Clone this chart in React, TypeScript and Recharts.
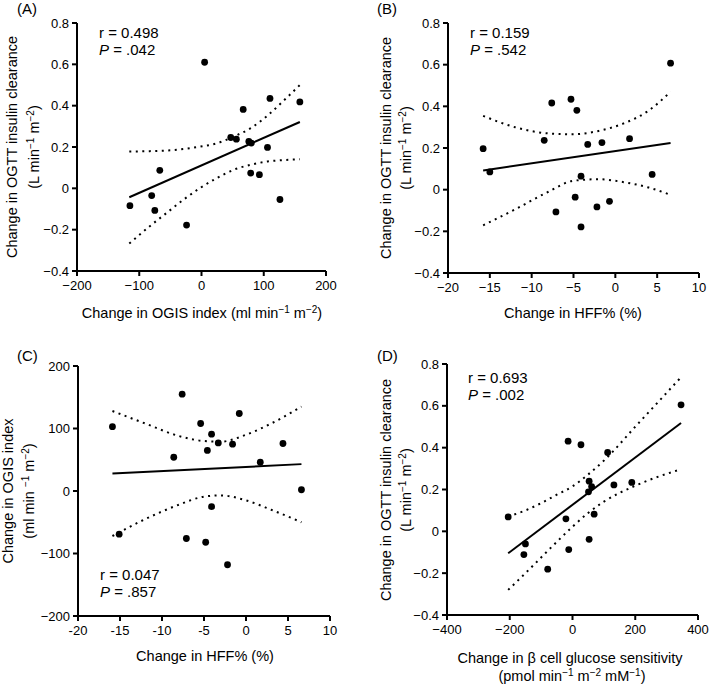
import React from "react";
import { ComposedChart, Scatter, Line, XAxis, YAxis } from "recharts";

// (A) OGIS index vs OGTT insulin clearance
const aX = [-115, -80, -75, -67, -24, 5, 47, 56, 67, 76, 80, 79, 93, 106, 110, 126, 158];
const aY = [-0.084, -0.035, -0.107, 0.087, -0.178, 0.61, 0.246, 0.238, 0.382, 0.227, 0.219, 0.074, 0.066, 0.198, 0.435, -0.054, 0.418];
const aFitX = [-116, 158];
const aFitY = [-0.043, 0.321];
const aBandX = [-116, -83, -56, -29, -2, 25, 52, 79, 106, 133, 158];
const aUpper = [0.178, 0.18, 0.183, 0.19, 0.202, 0.218, 0.251, 0.291, 0.352, 0.427, 0.5];
const aLower = [-0.267, -0.183, -0.119, -0.055, 0.002, 0.05, 0.09, 0.114, 0.13, 0.137, 0.141];

// (B) HFF% vs OGTT insulin clearance
const bX = [-15.8, -15.0, -8.5, -7.6, -7.1, -5.3, -4.8, -4.6, -4.1, -4.1, -3.3, -2.2, -1.6, -0.7, 1.7, 4.4, 6.6];
const bY = [0.197, 0.085, 0.237, 0.416, -0.107, 0.434, -0.036, 0.381, 0.065, -0.179, 0.217, -0.083, 0.226, -0.056, 0.245, 0.073, 0.607];
const bFitX = [-15.8, 6.6];
const bFitY = [0.092, 0.224];
const bBandX = [-15.8, -12, -8, -5, -2, 1, 4, 6.6];
const bUpper = [0.354, 0.3, 0.27, 0.266, 0.282, 0.318, 0.38, 0.47];
const bLower = [-0.171, -0.095, -0.01, 0.043, 0.05, 0.036, 0.01, -0.025];

// (C) HFF% vs OGIS index
const cX = [-15.9, -15.1, -8.6, -7.6, -7.1, -5.4, -4.8, -4.6, -4.1, -4.1, -3.3, -2.2, -1.6, -0.8, 1.7, 4.4, 6.6];
const cY = [103, -69, 54, 155, -76, 108, -82, 65, 91, -25, 77, -118, 75, 124, 46, 76, 2];
const cFitX = [-15.9, 6.6];
const cFitY = [28, 43];
const cBandX = [-15.9, -12, -8, -5, -3, 0, 3, 6.6];
const cUpper = [128, 108, 88, 80, 79, 90, 108, 135];
const cLower = [-72, -45, -22, -9, -7, -15, -30, -50];

// (D) beta cell glucose sensitivity vs OGTT insulin clearance
const dX = [-205, -150, -155, -79, -21, -14, -12, 27, 53, 53, 51, 61, 69, 112, 132, 189, 346];
const dY = [0.069, -0.06, -0.111, -0.181, 0.06, 0.431, -0.087, 0.414, 0.24, -0.038, 0.189, 0.214, 0.082, 0.377, 0.222, 0.234, 0.605];
const dFitX = [-205, 346];
const dFitY = [-0.105, 0.518];
const dBandX = [-205, -150, -100, -50, 0, 50, 100, 200, 346];
const dUpper = [0.071, 0.1, 0.135, 0.175, 0.215, 0.272, 0.338, 0.5, 0.737];
const dLower = [-0.28, -0.2, -0.125, -0.05, 0.022, 0.088, 0.142, 0.218, 0.297];

const clearanceTicks = [-0.4, -0.2, 0, 0.2, 0.4, 0.6, 0.8];
const ogisTicks = [-200, -100, 0, 100, 200];
const hffTicks = [-20, -15, -10, -5, 0, 5, 10];
const betaTicks = [-400, -200, 0, 200, 400];

const zip = (xs: number[], ys: number[]) => xs.map((x, i) => ({ x, y: ys[i] }));

const minus = (v: number) => (v < 0 ? "\u2212" + Math.abs(v) : String(v));
const hyphen = (v: number) => String(v);

const FONT = "'Liberation Sans', Arial, Helvetica, sans-serif";
const YW = 60;
const MT = 12;
const MR = 14;
const XH = 30;
const TITLE = 14.5;

const axisStyle = { stroke: "#000", strokeWidth: 2 };
const tickStyle = { fill: "#000", fontSize: 13, fontFamily: FONT };

const Dot = (p: any) => <circle cx={p.cx} cy={p.cy} r={3.4} fill="#000" />;

type Box = { x0: number; x1: number; y0: number; y1: number };

function Panel(props: {
  box: Box;
  xDomain: number[];
  xTicks: number[];
  yDomain: number[];
  yTicks: number[];
  points: { x: number; y: number }[];
  fit: { x: number; y: number }[];
  upper: { x: number; y: number }[];
  lower: { x: number; y: number }[];
  xFmt: (v: number) => string;
}) {
  const { box } = props;
  const W = box.x1 - box.x0 + YW + MR;
  const H = box.y1 - box.y0 + MT + XH;
  return (
    <div style={{ position: "absolute", left: box.x0 - YW, top: box.y0 - MT }}>
      <ComposedChart width={W} height={H} margin={{ top: MT, right: MR, bottom: 0, left: 0 }}>
        <XAxis
          type="number"
          dataKey="x"
          domain={props.xDomain}
          ticks={props.xTicks}
          interval={0}
          height={XH}
          axisLine={axisStyle}
          tickLine={axisStyle}
          tickSize={5}
          tickMargin={5}
          tick={tickStyle}
          tickFormatter={props.xFmt}
        />
        <YAxis
          type="number"
          dataKey="y"
          domain={props.yDomain}
          ticks={props.yTicks}
          interval={0}
          width={YW}
          axisLine={axisStyle}
          tickLine={axisStyle}
          tickSize={5}
          tickMargin={3}
          tick={tickStyle}
          tickFormatter={minus}
        />
        <Line data={props.upper} dataKey="y" type="monotone" stroke="#000" strokeWidth={2} strokeDasharray="2 4.5" dot={false} isAnimationActive={false} />
        <Line data={props.lower} dataKey="y" type="monotone" stroke="#000" strokeWidth={2} strokeDasharray="2 4.5" dot={false} isAnimationActive={false} />
        <Line data={props.fit} dataKey="y" type="linear" stroke="#000" strokeWidth={2} dot={false} isAnimationActive={false} />
        <Scatter data={props.points} dataKey="y" shape={Dot} isAnimationActive={false} />
      </ComposedChart>
    </div>
  );
}

const sup = (t: string, size = 10) => [
  <tspan key="s" dy={-5} fontSize={size}>{t}</tspan>,
  <tspan key="e" dy={5}>{" "}</tspan>,
];

function YLabel({ x, cy, children }: { x: number; cy: number; children: React.ReactNode }) {
  return (
    <text x={x} y={cy} transform={`rotate(-90 ${x} ${cy})`} textAnchor="middle" fontSize={TITLE} fill="#000">
      {children}
    </text>
  );
}

export default function App() {
  const A: Box = { x0: 77, x1: 326, y0: 23, y1: 271 };
  const B: Box = { x0: 448, x1: 699, y0: 23, y1: 273 };
  const C: Box = { x0: 78, x1: 330, y0: 366, y1: 616 };
  const D: Box = { x0: 447, x1: 698, y0: 364, y1: 615 };

  return (
    <div style={{ position: "absolute", left: 0, top: 0, width: 709, height: 686, background: "#fff", fontFamily: FONT, overflow: "hidden" }}>
      <Panel box={A} xDomain={[-200, 200]} xTicks={ogisTicks} yDomain={[-0.4, 0.8]} yTicks={clearanceTicks}
        points={zip(aX, aY)} fit={zip(aFitX, aFitY)} upper={zip(aBandX, aUpper)} lower={zip(aBandX, aLower)} xFmt={minus} />
      <Panel box={B} xDomain={[-20, 10]} xTicks={hffTicks} yDomain={[-0.4, 0.8]} yTicks={clearanceTicks}
        points={zip(bX, bY)} fit={zip(bFitX, bFitY)} upper={zip(bBandX, bUpper)} lower={zip(bBandX, bLower)} xFmt={minus} />
      <Panel box={C} xDomain={[-20, 10]} xTicks={hffTicks} yDomain={[-200, 200]} yTicks={ogisTicks}
        points={zip(cX, cY)} fit={zip(cFitX, cFitY)} upper={zip(cBandX, cUpper)} lower={zip(cBandX, cLower)} xFmt={hyphen} />
      <Panel box={D} xDomain={[-400, 400]} xTicks={betaTicks} yDomain={[-0.4, 0.8]} yTicks={clearanceTicks}
        points={zip(dX, dY)} fit={zip(dFitX, dFitY)} upper={zip(dBandX, dUpper)} lower={zip(dBandX, dLower)} xFmt={minus} />

      <svg width={709} height={686} style={{ position: "absolute", left: 0, top: 0, pointerEvents: "none" }} fontFamily={FONT}>
        {/* panel letters */}
        <text x={17} y={14} fontSize={15}>(A)</text>
        <text x={377} y={14} fontSize={15}>(B)</text>
        <text x={17} y={361} fontSize={15}>(C)</text>
        <text x={377} y={361} fontSize={15}>(D)</text>

        {/* stats */}
        <text x={99} y={38} fontSize={15}>r = 0.498</text>
        <text x={99} y={55} fontSize={15}><tspan fontStyle="italic">P</tspan> = .042</text>
        <text x={470} y={38} fontSize={15}>r = 0.159</text>
        <text x={470} y={55} fontSize={15}><tspan fontStyle="italic">P</tspan> = .542</text>
        <text x={100} y={580} fontSize={15}>r = 0.047</text>
        <text x={100} y={597} fontSize={15}><tspan fontStyle="italic">P</tspan> = .857</text>
        <text x={468} y={383} fontSize={15}>r = 0.693</text>
        <text x={468} y={400} fontSize={15}><tspan fontStyle="italic">P</tspan> = .002</text>

        {/* y axis titles */}
        <YLabel x={17} cy={147}>Change in OGTT insulin clearance</YLabel>
        <YLabel x={39} cy={147}>(L min{sup("\u22121")}m{sup("\u22122")[0]}<tspan dy={5}>)</tspan></YLabel>
        <YLabel x={391} cy={148}>Change in OGTT insulin clearance</YLabel>
        <YLabel x={411} cy={148}>(L min{sup("\u22121")}m{sup("\u22122")[0]}<tspan dy={5}>)</tspan></YLabel>
        <YLabel x={13} cy={491}>Change in OGIS index</YLabel>
        <YLabel x={34} cy={491}>(ml min {sup("\u22121")}m{sup("\u22122")[0]}<tspan dy={5}>)</tspan></YLabel>
        <YLabel x={391} cy={490}>Change in OGTT insulin clearance</YLabel>
        <YLabel x={411} cy={490}>(L min{sup("\u22121")}m{sup("\u22122")[0]}<tspan dy={5}>)</tspan></YLabel>

        {/* x axis titles */}
        <text x={202} y={318} textAnchor="middle" fontSize={TITLE}>
          Change in OGIS index (ml min{sup("\u22121")}m{sup("\u22122")[0]}<tspan dy={5}>)</tspan>
        </text>
        <text x={573} y={318} textAnchor="middle" fontSize={TITLE}>Change in HFF% (%)</text>
        <text x={205} y={661} textAnchor="middle" fontSize={TITLE}>Change in HFF% (%)</text>
        <text x={570} y={663} textAnchor="middle" fontSize={TITLE}>Change in {"\u03b2"} cell glucose sensitivity</text>
        <text x={572} y={681} textAnchor="middle" fontSize={TITLE}>
          (pmol min{sup("\u22121")}m{sup("\u22122")}mM{sup("\u22121")[0]}<tspan dy={5}>)</tspan>
        </text>
      </svg>
    </div>
  );
}
